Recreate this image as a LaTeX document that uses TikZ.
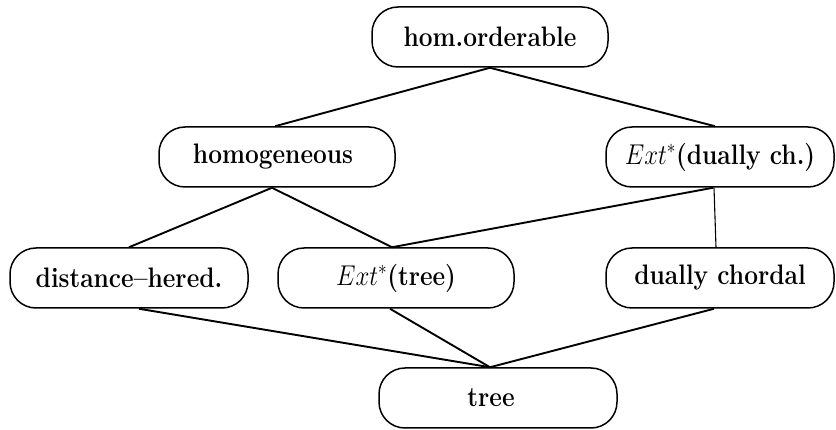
\documentclass[tikz,border=0pt]{standalone}
\newcommand{\tx}[1]{\scalebox{1}[1.15]{#1}}
\begin{document}
\begin{tikzpicture}[x=1pt,y=-1pt,
  box/.style={draw, line width=1.5pt, rounded corners=26pt, minimum height=60pt,
    inner sep=0pt, font=\fontsize{24.5}{28}\selectfont\bfseries},
  edge/.style={line width=1.9pt}]
\useasboundingbox (0,0) rectangle (836,430);
\node[box, minimum width=236pt] (ho) at (490,37) {\tx{hom.orderable}};
\node[box, minimum width=236pt] (hg) at (277,157) {\tx{\hspace*{-8pt}homogeneous}};
\node[box, minimum width=228pt] (ed) at (720,157) {\tx{$Ext^*$(dually ch.)}};
\node[box, minimum width=238pt] (dh) at (129,278) {\tx{distance--hered.}};
\node[box, minimum width=236pt] (et) at (396,278) {\tx{$Ext^*$(tree)}};
\node[box, minimum width=228pt] (dc) at (720,278) {\tx{dually chordal}};
\node[box, minimum width=238pt] (tr) at (498,398) {\tx{\hspace*{-14pt}tree}};
\draw[edge] (ho.south) -- ([xshift=-2pt]hg.north);
\draw[edge] (ho.south) -- ([xshift=-5pt]ed.north);
\draw[edge] ([xshift=-5pt]hg.south) -- (dh.north);
\draw[edge] ([xshift=-5pt]hg.south) -- ([xshift=-4pt]et.north);
\draw[edge] ([xshift=-7pt]ed.south) -- ([xshift=-4pt]et.north);
\draw[edge, line width=1.1pt] ([xshift=-6pt]ed.south) -- ([xshift=-4pt]dc.north);
\draw[edge] ([xshift=10pt]dh.south) -- ([xshift=-8pt]tr.north);
\draw[edge] ([xshift=-6pt]et.south) -- ([xshift=-8pt]tr.north);
\draw[edge] ([xshift=-6pt]dc.south) -- ([xshift=-8pt]tr.north);
\end{tikzpicture}
\end{document}
